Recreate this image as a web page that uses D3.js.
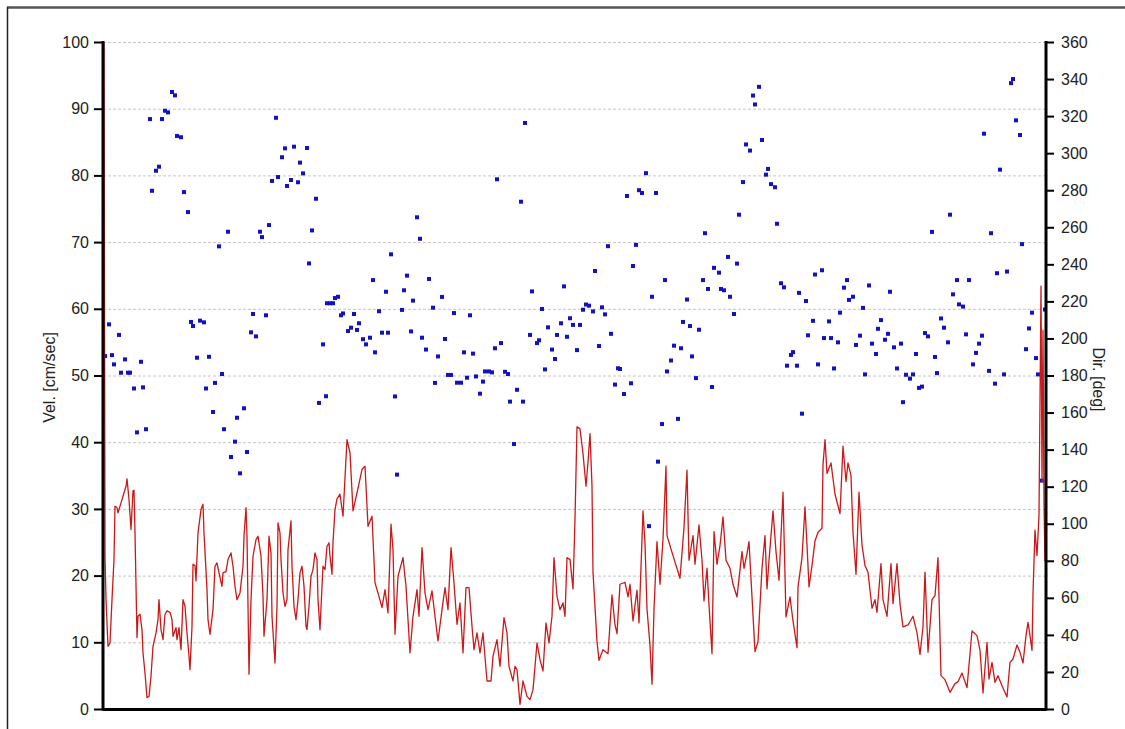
<!DOCTYPE html>
<html>
<head>
<meta charset="utf-8">
<script src="https://cdn.jsdelivr.net/npm/d3@7"></script>
<style>
  html, body { margin: 0; padding: 0; background: #ffffff; }
  svg { display: block; }
  .tick text { font-family: "Liberation Sans", Arial, sans-serif; font-size: 16px; fill: #222; }
</style>
</head>
<body>
<svg id="chart" width="1125" height="729"></svg>
<script>
// ---------- data ----------
const velTicks = [0, 10, 20, 30, 40, 50, 60, 70, 80, 90, 100];
const dirTicks = [0, 20, 40, 60, 80, 100, 120, 140, 160, 180, 200, 220, 240, 260, 280, 300, 320, 340, 360];
const velLabel = "Vel. [cm/sec]";
const dirLabel = "Dir. [deg]";

// velocity [time step, cm/sec]
const velocity = [
[1,100],[2,22.9],[3,16.4],[5,9.4],[7,9.9],[9,16.4],[11,22.4],[12,30.4],[14,30.2],[15,29.4],[18,30.9],[20,31.9],[23,33.4],[24,34.5],[26,31.4],[28,26.9],[30,32.7],[31,32.8],[32,26.4],[34,10.7],[35,13.9],[37,14.2],[39,11.9],[40,8.4],[42,5.4],[44,1.7],[46,1.9],[48,4.9],[50,9.4],[53,11.4],[55,13.4],[56,16.4],[58,11.9],[60,10.4],[62,14.2],[64,14.7],[67,14.5],[69,13.4],[70,10.9],[73,12.2],[74,10.4],[76,12.2],[78,8.9],[80,16.4],[82,15.4],[84,11.4],[86,7.9],[87,5.9],[89,12.4],[90,21.7],[92,21.5],[93,19.2],[95,26.4],[98,29.9],[100,30.7],[101,26.4],[104,17.9],[105,13.4],[107,11.2],[110,14.9],[112,21.4],[114,21.9],[116,20.4],[119,18.4],[120,20.4],[123,20.6],[125,22.4],[128,23.4],[130,21.4],[132,18.4],[134,16.4],[137,17.4],[140,21.4],[141,25.9],[143,30.2],[144,25.9],[146,5.2],[148,16.4],[150,22.9],[153,25.4],[155,25.9],[158,22.9],[160,16.9],[161,10.9],[164,16.4],[166,25.9],[168,23.4],[169,13.9],[172,6.9],[174,15.4],[175,27.9],[177,26.4],[178,22.4],[180,17.4],[182,15.4],[184,16.4],[185,23.9],[188,28.2],[189,21.4],[191,15.4],[193,13.4],[195,16.4],[197,20.4],[199,21.4],[201,18.4],[203,12.4],[204,11.9],[206,15.4],[208,19.9],[210,20.9],[212,23.4],[214,22.4],[215,16.4],[217,11.9],[219,18.4],[220,21.4],[222,20.9],[224,24.4],[226,24.9],[227,22.9],[229,20.2],[230,25],[232,29.9],[234,31.5],[237,32.2],[240,28.9],[244,40.4],[247,38.4],[250,29.7],[254,32.4],[259,35.9],[262,36.4],[265,27.4],[269,28.9],[272,18.9],[275,17.4],[279,15.2],[282,17.9],[285,14.4],[288,27.7],[290,23.9],[292,11.2],[295,19.9],[300,22.7],[303,18.4],[307,8.4],[310,13.9],[314,17.9],[316,13.9],[319,24.2],[322,17.4],[325,14.9],[329,17.7],[332,13.9],[335,10.2],[339,14.9],[342,18.2],[345,14.9],[348,24.2],[351,18.9],[354,12.7],[357,15.9],[360,8.4],[363,18.2],[366,18.2],[369,12.4],[371,8.9],[374,11.4],[377,8.4],[380,11.4],[384,4.2],[388,4.2],[390,7.9],[394,10.4],[397,6.4],[401,13.7],[404,11.4],[406,6.4],[410,4.2],[412,6.4],[414,5.9],[417,0.7],[420,4.2],[424,1.9],[427,1.4],[430,2.9],[434,9.9],[437,7.4],[440,5.7],[443,12.9],[446,9.9],[449,13.9],[451,22.7],[454,16.9],[457,14.9],[460,15.9],[462,13.9],[464,22.7],[467,22.4],[470,18],[472,28.5],[474,42.3],[477,42],[480,38.3],[483,33.4],[485,37],[487,41.3],[489,33.4],[490,20.5],[494,10.1],[496,7.3],[500,8.9],[505,8.3],[509,17.1],[512,12.6],[514,11.3],[517,18.7],[522,19],[525,16.8],[527,18.7],[530,13.2],[534,17.8],[536,12.9],[540,29.7],[542,24.8],[544,15],[547,9.5],[549,3.7],[551,15],[554,25.1],[557,18.7],[560,25.4],[563,36.4],[564,26],[570,23],[577,19.6],[581,27.2],[584,35.8],[586,22.3],[590,26],[592,21.7],[596,27.6],[599,22.3],[601,16.2],[604,21.1],[606,15.6],[609,8.3],[611,26.6],[614,21.7],[617,24.5],[620,28.8],[623,22.3],[627,21.1],[630,18.7],[634,16.8],[639,23.6],[641,21.1],[644,23.3],[646,25.1],[649,16.8],[652,8.6],[655,10.1],[659,21.1],[662,26],[664,18],[666,22.3],[670,29.7],[673,23.6],[676,19.3],[680,32.5],[683,13.8],[687,16.8],[690,13.2],[694,9.2],[695,18.3],[699,22.7],[702,30.3],[704,24.6],[706,18.3],[709,21.5],[712,25.2],[715,26.5],[719,27.1],[720,36.6],[722,40.4],[724,35.3],[728,36.9],[732,32.2],[737,29.3],[740,39.4],[743,34.1],[745,36.9],[748,35],[750,26.5],[753,20.2],[756,32.5],[759,24.6],[762,21.5],[765,20.5],[769,15.1],[772,16.4],[774,14.5],[778,21.8],[780,16.4],[784,13.9],[788,21.8],[790,15.8],[794,21.8],[797,15.8],[800,12.3],[805,12.6],[810,13.9],[814,11.4],[817,8.2],[820,12.3],[822,20.5],[825,8.5],[829,16.4],[832,17],[835,22.7],[838,5],[842,4.4],[847,2.5],[852,3.8],[855,4.1],[859,5.4],[864,3.2],[869,11.7],[874,11],[877,8.8],[880,2.4],[884,10],[886,4.5],[889,7],[892,4],[895,5],[899,3.5],[904,1.8],[907,7],[910,7.5],[914,9.6],[917,8.5],[920,6.9],[923,11],[925,13],[927,11],[929,8.8],[930,17.4],[932,26.8],[934,23],[936,29],[938,63.4],[939,34],[940,56.8],[941,30.9],[942,22.1]
];

// direction [time step, deg]
const direction = [
[2,190.5],[6,207.6],[9,191],[11,186],[16,201.9],[18,181.5],[22,188.7],[25,181.5],[27,181.5],[31,173],[34,149.3],[38,187.4],[40,173.6],[43,151],[47,318.4],[49,279.7],[53,290.5],[56,292.7],[59,318.4],[62,322.9],[65,322],[69,333],[72,331.2],[74,309.3],[78,308.6],[81,279],[85,268.2],[88,208.9],[90,206.7],[94,189.6],[97,209.6],[101,208.7],[103,173],[106,190.1],[110,160.3],[112,176],[116,249.7],[119,180.8],[121,151],[125,257.6],[128,136],[132,144.3],[134,157.2],[137,127.2],[141,162.3],[144,138.7],[148,203.3],[150,213.2],[153,201.1],[157,257.6],[159,254.7],[163,212.5],[166,261.2],[169,285],[173,319.1],[175,287.1],[179,297.8],[182,302.6],[184,282.3],[188,285.5],[191,303.5],[195,284.3],[197,294.9],[200,289.1],[204,302.8],[206,240.5],[209,258.3],[213,275.4],[216,165.2],[220,196.8],[223,168.8],[224,219],[227,219],[230,219],[232,221.8],[235,222.5],[238,212.5],[240,213.5],[245,204],[248,205.8],[251,213.2],[254,204.6],[256,208.2],[260,199.6],[263,196.8],[267,200.4],[270,231.5],[272,192.5],[276,214.7],[279,203.1],[283,225.2],[285,203.1],[288,245.4],[292,168.7],[294,126.5],[299,215.4],[301,226],[304,233.9],[308,203.8],[310,220.4],[314,265.4],[317,253.8],[319,200.4],[323,194],[326,232.1],[330,216.6],[332,176],[335,190.3],[339,222.4],[342,199.7],[345,180.3],[348,180.3],[351,213.7],[354,176.1],[358,176.1],[361,192.5],[364,178.8],[367,212.5],[370,191.8],[373,179.5],[377,170.2],[380,176.7],[382,182.2],[386,182.2],[389,181.7],[392,194.7],[394,285.9],[398,197.5],[402,182],[405,180.8],[407,165.9],[411,143],[414,172.3],[418,273.8],[420,165.9],[422,316.3],[427,201.9],[429,225.4],[434,197.5],[436,199],[439,215.9],[442,183.3],[445,206],[449,194],[452,188.9],[454,201.9],[458,208.2],[461,228.1],[464,200.9],[467,210.9],[470,207.3],[474,193.7],[477,207.3],[480,215.5],[483,218.3],[486,217.7],[490,214.6],[492,236.4],[496,195.9],[499,216.8],[502,213],[505,249.8],[508,202.5],[512,175.1],[515,183.9],[517,183.5],[521,170],[524,276.9],[528,175.8],[530,239.1],[533,250.5],[536,280],[539,278.5],[543,289.2],[546,98.7],[549,222.5],[553,278.5],[555,133.5],[559,153.8],[562,231.5],[564,182.2],[568,188.1],[571,196.1],[575,156.6],[578,194.7],[580,208.9],[584,221],[587,206.7],[589,190.3],[593,178.6],[596,204.7],[600,231.5],[602,256.8],[605,226.7],[609,173.8],[611,238.1],[616,235.5],[618,226.7],[621,226],[625,244],[627,222.5],[631,213.2],[634,240.4],[636,266.8],[640,284.4],[643,304.7],[647,301.4],[650,331.1],[652,326.3],[656,335.8],[659,307.1],[663,288.4],[665,291.5],[668,283.3],[672,281.6],[674,261.9],[678,229.8],[681,227.6],[684,185.3],[688,191.1],[690,192.6],[694,185.3],[696,224.6],[699,159.4],[703,220.2],[705,201.7],[710,209.5],[712,234.5],[715,186],[719,236.8],[721,200.2],[726,209.2],[728,200.2],[731,183.8],[735,197.9],[737,213.9],[741,227.4],[744,231.5],[746,220.8],[750,222.5],[753,196.5],[757,201.5],[760,216.5],[762,180.6],[766,228.6],[769,197.2],[773,191.6],[775,205.2],[778,209.9],[782,199.3],[785,202.5],[787,225.2],[791,195.2],[794,183.8],[798,197.2],[800,165.6],[803,180.4],[807,178.3],[810,180.6],[813,191.6],[816,173.3],[819,174],[822,202.9],[825,201.1],[829,257.5],[832,190],[834,181.3],[838,210.8],[841,205.8],[845,197.9],[847,266.8],[850,223.8],[854,231.5],[856,218.4],[860,217.2],[863,202.2],[866,231.5],[870,186],[873,192.2],[876,197.2],[879,201.5],[881,310.5],[886,182.5],[888,256.8],[892,175.6],[894,235.2],[897,291.1],[901,180.6],[904,236.1],[908,337.8],[910,340],[913,317.7],[917,309.8],[919,250.9],[923,194.2],[926,205.4],[929,213.9],[933,189.4],[935,180.6],[939,123.3],[942,215.6]
];

// ---------- layout ----------
const svg = d3.select("#chart");
const L = 103, R = 1045, T = 42, B = 709;

const x = d3.scaleLinear().domain([0, 942]).range([L, R]);
const yV = d3.scaleLinear().domain([0, 100]).range([B, T]);
const yD = d3.scaleLinear().domain([0, 360]).range([B, T]);

// frame
svg.append("line").attr("x1", 7).attr("x2", 1125).attr("y1", 7.5).attr("y2", 7.5)
   .attr("stroke", "#555").attr("stroke-width", 2.5);
svg.append("line").attr("x1", 7.5).attr("x2", 7.5).attr("y1", 7).attr("y2", 729)
   .attr("stroke", "#222").attr("stroke-width", 1.5);

// grid
svg.append("g").selectAll("line").data(velTicks.filter(d => d > 0)).join("line")
  .attr("x1", L).attr("x2", R)
  .attr("y1", d => yV(d) + 0.5).attr("y2", d => yV(d) + 0.5)
  .attr("stroke", "#c4c4c4").attr("stroke-width", 1).attr("stroke-dasharray", "3,2");

// direction points
svg.append("g").selectAll("rect").data(direction).join("rect")
  .attr("x", d => x(d[0]) - 2).attr("y", d => yD(d[1]) - 2)
  .attr("width", 4).attr("height", 4)
  .attr("fill", "#1212c4");

// velocity line
const line = d3.line().x(d => x(d[0])).y(d => yV(d[1]));
svg.append("path").datum(velocity)
  .attr("d", line).attr("fill", "none")
  .attr("stroke", "#cc1818").attr("stroke-width", 1.3)
  .attr("stroke-linejoin", "round");

// axes
const axL = svg.append("g").attr("transform", `translate(${L},0)`)
  .call(d3.axisLeft(yV).tickValues(velTicks).tickSize(9).tickPadding(5).tickFormat(d3.format("d")));
const axR = svg.append("g").attr("transform", `translate(${R},0)`)
  .call(d3.axisRight(yD).tickValues(dirTicks).tickSize(9).tickPadding(7).tickFormat(d3.format("d")));
[axL, axR].forEach(g => {
  g.select(".domain").remove();
  g.selectAll(".tick line").attr("stroke", "#000").attr("stroke-width", 2);
});
svg.append("line").attr("x1", L).attr("x2", L).attr("y1", T - 1).attr("y2", B + 1.5)
  .attr("stroke", "#000").attr("stroke-width", 3);
svg.append("line").attr("x1", R + 1).attr("x2", R + 1).attr("y1", T - 1).attr("y2", B + 1.5)
  .attr("stroke", "#000").attr("stroke-width", 3);
svg.append("line").attr("x1", L).attr("x2", R + 1).attr("y1", B + 0.5).attr("y2", B + 0.5)
  .attr("stroke", "#000").attr("stroke-width", 3);

// axis titles
svg.append("text")
  .attr("transform", `translate(55,${(T + B) / 2 + 2}) rotate(-90)`)
  .attr("text-anchor", "middle")
  .style("font-family", "Liberation Sans, Arial, sans-serif").style("font-size", "16px").attr("fill", "#222")
  .text(velLabel);
svg.append("text")
  .attr("transform", `translate(1093,${(T + B) / 2 + 4}) rotate(90)`)
  .attr("text-anchor", "middle")
  .style("font-family", "Liberation Sans, Arial, sans-serif").style("font-size", "16px").attr("fill", "#222")
  .text(dirLabel);
</script>
</body>
</html>
